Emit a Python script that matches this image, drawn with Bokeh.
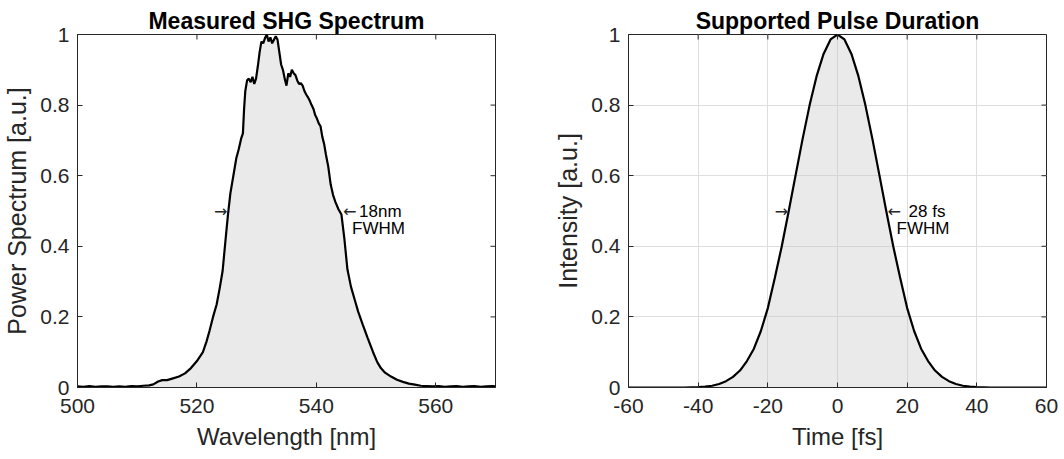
import math
from bokeh.plotting import figure
from bokeh.layouts import row
from bokeh.models import Range1d, LinearAxis, FixedTicker, Grid
from bokeh.embed import file_html
from bokeh.resources import INLINE
from bokeh.core.properties import value

# ---------------- data ----------------
wavelength_nm = [500, 501, 502, 503, 504, 505, 506, 507, 508, 509, 510, 511, 512,
                 512.7, 513.5, 514.2, 515, 516, 517, 518, 519, 520, 521, 521.6, 522.1,
                 522.7, 523.3, 523.8, 524.3, 524.8, 525.2, 525.6, 526.1, 526.6, 527.0,
                 527.4, 527.7, 527.9, 528.1, 528.4, 528.7, 529.0, 529.3, 529.6, 529.9,
                 530.2, 530.5, 530.8, 531.1, 531.4, 531.7, 532.0, 532.3, 532.6, 532.9,
                 533.2, 533.5, 533.8, 534.1, 534.4, 534.7, 535.0, 535.3, 535.6, 535.9,
                 536.2, 536.5, 536.8, 537.1, 537.4, 537.7, 538.0, 538.3, 538.6, 538.9,
                 539.2, 539.5, 539.8, 540.1, 540.4, 540.7, 541.0, 541.3, 541.6, 542.0,
                 542.4, 542.8, 543.2, 543.7, 544.2, 544.7, 545.2, 545.8, 546.4, 547.0,
                 547.8, 548.6, 549.5, 550.2, 550.8, 551.5, 552.5, 553.5, 554.5, 555.5,
                 556.5, 557.5, 558.5, 559.5, 560.5, 561.5, 562.5, 563.5, 564.5, 565.5,
                 566.5, 567.5, 568.5, 569.5, 570]
power_spectrum = [0.003, 0.002, 0.004, 0.002, 0.003, 0.003, 0.002, 0.003, 0.002, 0.004, 0.003, 0.005, 0.006,
                  0.009, 0.017, 0.021, 0.021, 0.026, 0.031, 0.040, 0.055, 0.075, 0.100, 0.130, 0.160,
                  0.200, 0.235, 0.280, 0.330, 0.420, 0.490, 0.550, 0.600, 0.650, 0.675,
                  0.705, 0.720, 0.790, 0.840, 0.870, 0.875, 0.865, 0.880, 0.860, 0.875,
                  0.910, 0.950, 0.980, 0.975, 0.990, 1.000, 0.980, 0.992, 0.975, 0.985,
                  0.995, 0.985, 0.950, 0.915, 0.900, 0.875, 0.855, 0.890, 0.880, 0.900,
                  0.890, 0.885, 0.870, 0.860, 0.862, 0.855, 0.840, 0.830, 0.822, 0.812,
                  0.800, 0.790, 0.772, 0.762, 0.748, 0.740, 0.710, 0.690, 0.660, 0.625,
                  0.575, 0.545, 0.525, 0.505, 0.490, 0.420, 0.335, 0.285, 0.250, 0.215,
                  0.177, 0.140, 0.100, 0.072, 0.055, 0.042, 0.031, 0.022, 0.016, 0.011,
                  0.008, 0.005, 0.004, 0.003, 0.004, 0.002, 0.003, 0.004, 0.002, 0.003,
                  0.004, 0.002, 0.003, 0.004, 0.003]

time_fs = [-60, -58, -56, -54, -52, -50, -48, -46, -44, -42, -40, -38, -36, -34, -32, -30,
           -28, -26, -24, -22, -20, -18, -16, -14, -12, -10, -8, -6, -4, -2, 0,
           2, 4, 6, 8, 10, 12, 14, 16, 18, 20, 22, 24, 26, 28, 30,
           32, 34, 36, 38, 40, 42, 44, 46, 48, 50, 52, 54, 56, 58, 60]
intensity = [0, 0, 0, 0, 0, 0, 0, 0, 0, 0.0005, 0.001, 0.0025, 0.005, 0.010, 0.018, 0.030,
             0.048, 0.075, 0.110, 0.160, 0.225, 0.310, 0.400, 0.500, 0.603, 0.705, 0.800, 0.882, 0.945, 0.986, 1.0,
             0.986, 0.945, 0.882, 0.800, 0.705, 0.603, 0.500, 0.400, 0.310, 0.225, 0.160, 0.110, 0.075, 0.048, 0.030,
             0.018, 0.010, 0.005, 0.0025, 0.001, 0.0005, 0, 0, 0, 0, 0, 0, 0, 0, 0]

spec_xticks = [500, 520, 540, 560]
spec_xlabels = ["500", "520", "540", "560"]
time_xticks = [-60, -40, -20, 0, 20, 40, 60]
time_xlabels = ["-60", "-40", "-20", "0", "20", "40", "60"]
y_ticks = [0, 0.2, 0.4, 0.6, 0.8, 1]
y_labels = ["0", "0.2", "0.4", "0.6", "0.8", "1"]

spec_fwhm = [525.1, 544.3]    # half-maximum crossings [nm]
pulse_fwhm = [-14.2, 14.1]    # half-maximum crossings [fs]
half_level = 0.5

FONT = "Liberation Sans"
ARROW_FONT = "DejaVu Sans"
AX = "#262626"


def axis(ticks, labels, horizontal):
    return LinearAxis(ticker=FixedTicker(ticks=ticks),
                      major_label_overrides={t: l for t, l in zip(ticks, labels)},
                      axis_line_color=AX, axis_line_width=1,
                      major_tick_line_color=AX, major_tick_in=5, major_tick_out=0,
                      minor_tick_line_color=None,
                      major_label_text_font=FONT, major_label_text_color=AX,
                      major_label_text_font_size="21px",
                      major_label_standoff=11 if horizontal else 8,
                      axis_label_text_font=FONT,
                      axis_label_text_font_style="normal",
                      axis_label_text_color=AX)


def make(xr, xticks, xlabels, ylabel, title, xlabel, grid, bl, br, x, y,
         fwhm, ann_text, ann_gap):
    p = figure(frame_width=418, frame_height=353, x_range=Range1d(*xr),
               y_range=Range1d(0, 1), output_backend="svg", toolbar_location=None,
               x_axis_type=None, y_axis_type=None, title=title,
               min_border_left=bl, min_border_right=br,
               min_border_top=34, min_border_bottom=70)
    p.outline_line_color = AX
    p.title.align = "center"
    p.title.text_font = FONT
    p.title.text_font_size = "23px"
    p.title.text_font_style = "bold"
    p.title.text_color = "black"
    p.title.standoff = 2
    p.title.offset = 0

    bx = axis(xticks, xlabels, True)
    bx.axis_label = xlabel
    bx.axis_label_text_font_size = "24px"
    bx.axis_label_standoff = 7
    ly = axis(y_ticks, y_labels, False)
    ly.axis_label = ylabel
    ly.axis_label_text_font_size = "25px"
    ly.axis_label_standoff = 6
    p.add_layout(bx, "below")
    p.add_layout(ly, "left")

    if grid:
        p.add_layout(Grid(dimension=0, ticker=FixedTicker(ticks=xticks),
                          grid_line_color="#dedede", grid_line_width=1))
        p.add_layout(Grid(dimension=1, ticker=FixedTicker(ticks=y_ticks),
                          grid_line_color="#dedede", grid_line_width=1))

    p.varea(x=x, y1=0, y2=y, fill_color="#c4c4c4", fill_alpha=0.36)
    p.line(x, y, line_color="black", line_width=2.2)

    # mirrored inward ticks on the top and right edges of the box
    p.ray(x=xticks, y=[y_ticks[-1]] * len(xticks), length=5, length_units="screen",
          angle=-math.pi / 2, line_color=AX, line_width=1)
    p.ray(x=[xr[1]] * len(y_ticks), y=y_ticks, length=5, length_units="screen",
          angle=math.pi, line_color=AX, line_width=1)

    # FWHM annotations
    p.text(x=[fwhm[0]], y=[half_level], text=["\u2192"], text_align="right",
           text_baseline="middle", text_font=value(ARROW_FONT), text_font_size="16px",
           text_color=AX, x_offset=0)
    p.text(x=[fwhm[1]], y=[half_level], text=["\u2190"], text_align="left",
           text_baseline="middle", text_font=value(ARROW_FONT), text_font_size="16px",
           text_color=AX, x_offset=1)
    p.text(x=[fwhm[1]], y=[half_level], text=[ann_text], text_align="left",
           text_baseline="middle", text_font=value(FONT), text_font_size="17px",
           text_color="black", x_offset=ann_gap)
    p.text(x=[fwhm[1]], y=[half_level], text=["FWHM"], text_align="left",
           text_baseline="middle", text_font=value(FONT), text_font_size="17px",
           text_color="black", x_offset=10, y_offset=17)
    return p


p1 = make((500, 570), spec_xticks, spec_xlabels, "Power Spectrum [a.u.]",
          "Measured SHG Spectrum", "Wavelength [nm]", False, 77, 10,
          wavelength_nm, power_spectrum, spec_fwhm, "18nm", 17)
p2 = make((-60, 60), time_xticks, time_xlabels, "Intensity [a.u.]",
          "Supported Pulse Duration", "Time [fs]", True, 123, 14,
          time_fs, intensity, pulse_fwhm, "28 fs", 22)

layout = row(p1, p2)
open("out.html", "w").write(file_html(layout, INLINE))
